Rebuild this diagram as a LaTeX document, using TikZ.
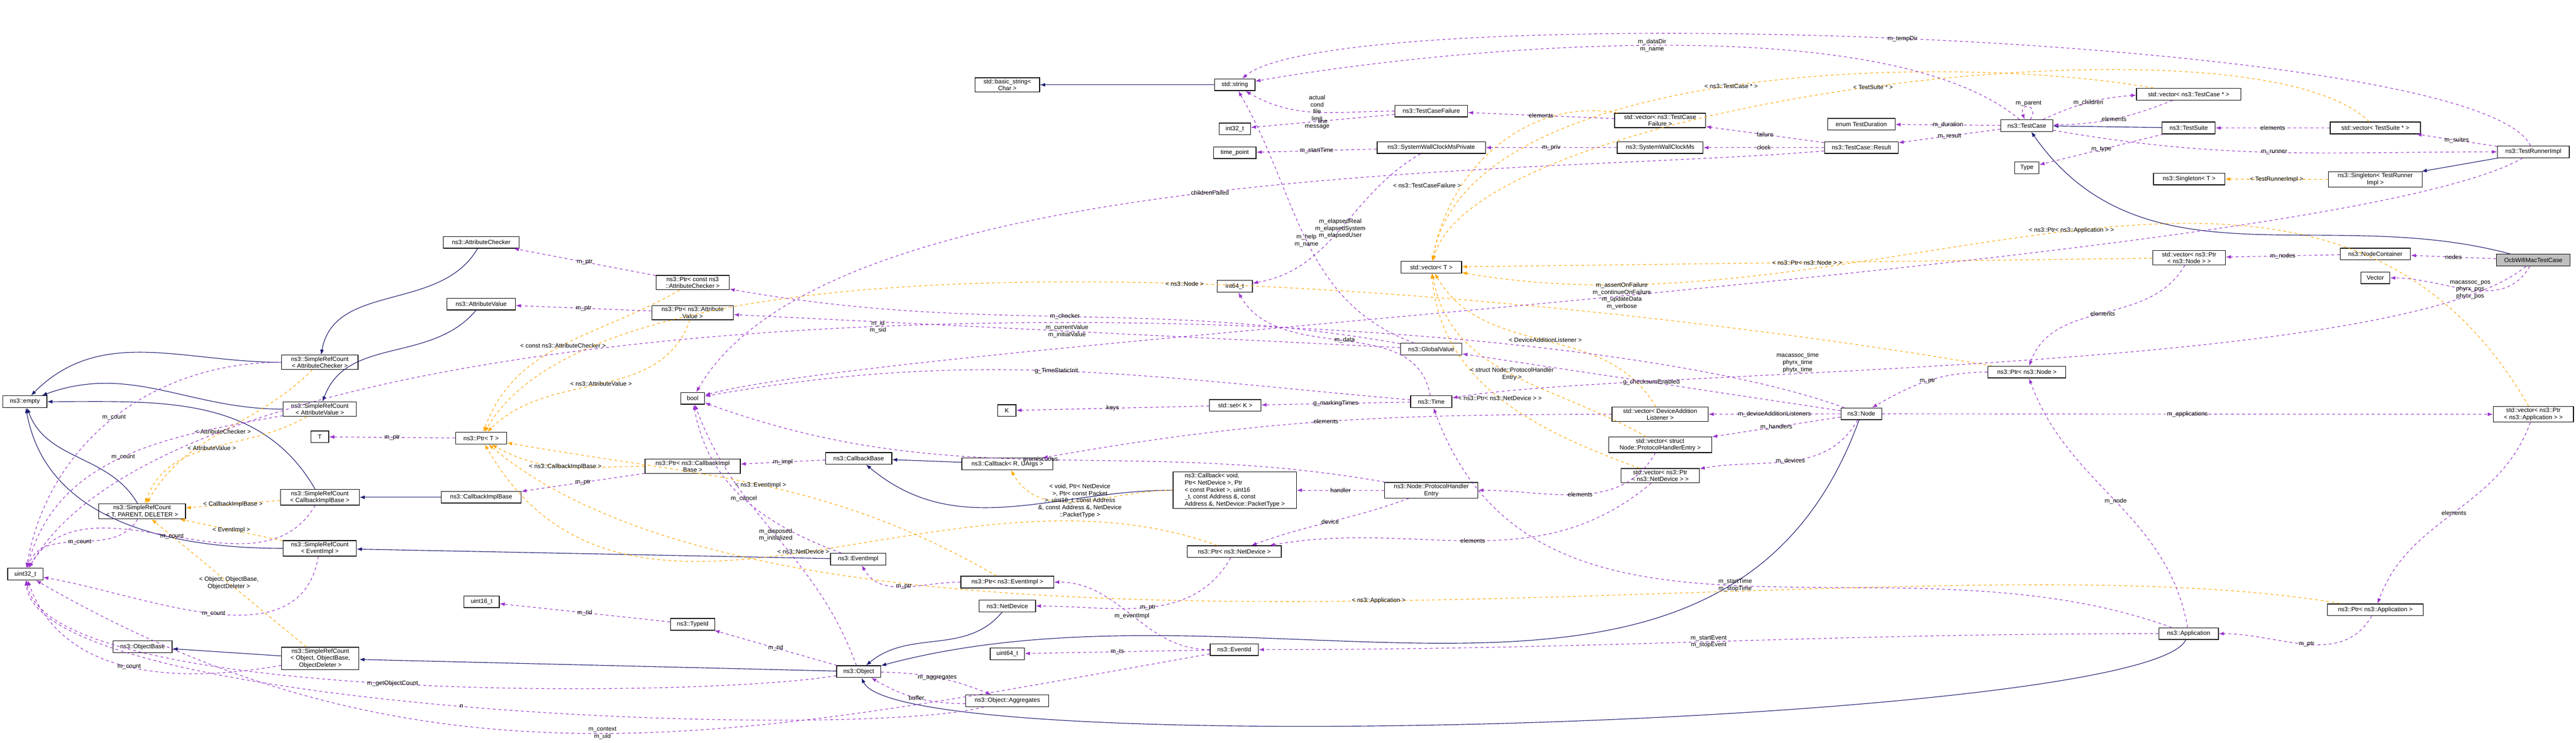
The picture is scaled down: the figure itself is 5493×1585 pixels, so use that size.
\documentclass[tikz,border=0pt]{standalone}
\usepackage{fontspec}
\setmainfont{Liberation Sans}
\usetikzlibrary{arrows.meta}
\definecolor{usecol}{RGB}{153,50,204}
\definecolor{inhcol}{RGB}{25,25,112}
\definecolor{tplcol}{RGB}{255,165,0}
\tikzset{
  cls/.style={draw=black,fill=white,line width=0.3pt,align=center,inner xsep=0.8pt,inner ysep=0.6pt,minimum height=5pt,font=\fontsize{2.6}{3}\selectfont},
  lbl/.style={font=\fontsize{2.6}{3}\selectfont,align=center,inner sep=0.4pt},
  use/.style={draw=usecol,dash pattern=on 1.2pt off 1.2pt,line width=0.25pt,-{Latex[length=2.2pt,width=1.6pt]}},
  inh/.style={draw=inhcol,line width=0.25pt,-{Latex[length=2.2pt,width=1.6pt]}},
  tpl/.style={draw=tplcol,dash pattern=on 1.2pt off 1.2pt,line width=0.25pt,-{Latex[length=2.2pt,width=1.6pt]}},
}
\newcommand{\cls}[5]{\node[cls,minimum width=#4*0.2pt] (#1) at (#2,#3) {#5};}
\newcommand{\inh}[3][]{\draw[inh] (#2) to[#1] (#3);}
\newcommand{\tpl}[4][]{\draw[tpl] (#2) to[#1] node[lbl] {#3} (#4);}
\newcommand{\memb}[4][]{\draw[use] (#2) to[#1] node[lbl] {#3} (#4);}
\begin{document}
\begin{tikzpicture}[x=0.2pt,y=-0.2pt]
    \useasboundingbox (0,0) rectangle (5493,1585);
    % classes, left part
    \cls{empty}{53}{857}{94}{ns3::empty}
    \cls{srcac}{682}{773}{163}{ns3::SimpleRefCount\\< AttributeChecker >}
    \cls{srcav}{682}{873}{156}{ns3::SimpleRefCount\\< AttributeValue >}
    \cls{srccib}{682}{1061}{168}{ns3::SimpleRefCount\\< CallbackImplBase >}
    \cls{srcei}{682}{1170}{156}{ns3::SimpleRefCount\\< EventImpl >}
    \cls{srctpd}{303}{1091}{185}{ns3::SimpleRefCount\\< T, PARENT, DELETER >}
    \cls{srcobj}{683}{1405}{165}{ns3::SimpleRefCount\\< Object, ObjectBase,\\ ObjectDeleter >}
    \cls{objbase}{304}{1380}{126}{ns3::ObjectBase}
    \cls{uint32}{54}{1225}{75}{uint32\_t}
    \cls{uint16}{1027}{1284}{75}{uint16\_t}
    \cls{T}{682}{932}{38}{T}
    \cls{ptrT}{1026}{935}{109}{ns3::Ptr< T >}
    \cls{ac}{1026}{517}{162}{ns3::AttributeChecker}
    \cls{av}{1026}{649}{146}{ns3::AttributeValue}
    \cls{cib}{1026}{1061}{170}{ns3::CallbackImplBase}
    \cls{ptrcac}{1477}{603}{156}{ns3::Ptr< const ns3\\::AttributeChecker >}
    \cls{ptrav}{1477}{667}{174}{ns3::Ptr< ns3::Attribute\\Value >}
    \cls{bool}{1477}{850}{51}{bool}
    \cls{ptrcib}{1477}{995}{203}{ns3::Ptr< ns3::CallbackImpl\\Base >}
    \cls{typeid}{1477}{1332}{95}{ns3::TypeId}
    \cls{eventimpl}{1830}{1193}{118}{ns3::EventImpl}
    \cls{object}{1831}{1433}{94}{ns3::Object}
    \cls{cbbase}{1831}{978}{141}{ns3::CallbackBase}
    % classes, middle part
    \cls{basicstr}{2148}{181}{138}{std::basic\_string<\\Char >}
    \cls{K}{2147}{876}{39}{K}
    \cls{cbru}{2148}{990}{194}{ns3::Callback< R, UArgs >}
    \cls{ptrei}{2148}{1242}{198}{ns3::Ptr< ns3::EventImpl >}
    \cls{netdev}{2148}{1293}{120}{ns3::NetDevice}
    \cls{uint64}{2148}{1395}{73}{uint64\_t}
    \cls{aggr}{2148}{1495}{177}{ns3::Object::Aggregates}
    \cls{string}{2633}{181}{86}{std::string}
    \cls{int32}{2633}{275}{67}{int32\_t}
    \cls{timept}{2633}{326}{91}{time\_point}
    \cls{int64}{2633}{611}{75}{int64\_t}
    \cls{setK}{2634}{865}{110}{std::set< K >}
    \node[cls,minimum width=263*0.2pt,align=left] (cbvoid) at (2633,1046) {ns3::Callback< void,\\ Ptr< NetDevice >, Ptr\\< const Packet >, uint16\\\_t, const Address \&, const\\ Address \&, NetDevice::PacketType >};
    \cls{ptrnd}{2632}{1177}{200}{ns3::Ptr< ns3::NetDevice >}
    \cls{eventid}{2632}{1386}{103}{ns3::EventId}
    \cls{tcf}{3052}{237}{155}{ns3::TestCaseFailure}
    \cls{swcmp}{3052}{315}{231}{ns3::SystemWallClockMsPrivate}
    \cls{vecT}{3052}{570}{129}{std::vector< T >}
    \cls{globval}{3052}{745}{131}{ns3::GlobalValue}
    \cls{time}{3052}{857}{88}{ns3::Time}
    \cls{phe}{3052}{1046}{199}{ns3::Node::ProtocolHandler\\Entry}
    \cls{vectcf}{3540}{257}{194}{std::vector< ns3::TestCase\\Failure >}
    \cls{swcm}{3540}{315}{183}{ns3::SystemWallClockMs}
    \cls{vecdal}{3540}{884}{205}{std::vector< DeviceAddition\\Listener >}
    \cls{vecphe}{3540}{949}{220}{std::vector< struct\\ Node::ProtocolHandlerEntry >}
    \cls{vecpnd}{3540}{1015}{167}{std::vector< ns3::Ptr\\< ns3::NetDevice > >}
    % classes, right part
    \cls{duration}{3969}{265}{144}{enum TestDuration}
    \cls{result}{3969}{315}{157}{ns3::TestCase::Result}
    \cls{node}{3969}{883}{87}{ns3::Node}
    \cls{testcase}{4322}{268}{111}{ns3::TestCase}
    \cls{type}{4322}{358}{52}{Type}
    \cls{ptrnode}{4322}{794}{166}{ns3::Ptr< ns3::Node >}
    \cls{vectc}{4667}{201}{222}{std::vector< ns3::TestCase * >}
    \cls{testsuite}{4667}{273}{113}{ns3::TestSuite}
    \cls{singT}{4668}{382}{152}{ns3::Singleton< T >}
    \cls{vecnode}{4668}{550}{155}{std::vector< ns3::Ptr\\< ns3::Node > >}
    \cls{app}{4667}{1352}{127}{ns3::Application}
    \cls{vects}{5065}{273}{192}{std::vector< TestSuite * >}
    \cls{singtr}{5065}{383}{200}{ns3::Singleton< TestRunner\\Impl >}
    \cls{nodecont}{5065}{542}{150}{ns3::NodeContainer}
    \cls{vector}{5065}{593}{62}{Vector}
    \cls{ptrapp}{5065}{1301}{204}{ns3::Ptr< ns3::Application >}
    \cls{trimpl}{5402}{324}{153}{ns3::TestRunnerImpl}
    \node[cls,minimum width=157*0.2pt,fill=black!25] (ocb) at (5402,555) {OcbWifiMacTestCase};
    \cls{vecapp}{5402}{884}{171}{std::vector< ns3::Ptr\\< ns3::Application > >}

    % inheritance
    \inh[out=180,in=45]{srcac}{empty}
    \inh[out=180,in=20]{srcav}{empty}
    \inh[out=120,in=0]{srccib}{empty}
    \inh[out=120,in=-70]{srctpd}{empty}
    \inh[out=180,in=-80]{srcei}{empty}
    \inh[out=-120,in=80]{ac}{srcac}
    \inh[out=-130,in=70]{av}{srcav}
    \inh{cib}{srccib}
    \inh{eventimpl}{srcei}
    \inh{object}{srcobj}
    \inh{srcobj}{objbase}
    \inh{string}{basicstr}
    \inh{cbru}{cbbase}
    \inh[out=180,in=-40]{cbvoid}{cbbase}
    \inh[out=-130,in=40]{netdev}{object}
    \inh[out=-110,in=15]{node}{object}
    \inh[out=-115,in=-65,looseness=0.18]{app}{object}
    \inh{testsuite}{testcase}
    \inh[out=165,in=-55]{ocb}{testcase}
    \inh{trimpl}{singtr}

    % template instances
    \tpl[out=-135,in=60]{srcac}{< AttributeChecker >}{srctpd}
    \tpl[out=-150,in=70]{srcav}{< AttributeValue >}{srctpd}
    \tpl{srccib}{< CallbackImplBase >}{srctpd}
    \tpl{srcei}{< EventImpl >}{srctpd}
    \tpl{srcobj}{< Object, ObjectBase,\\ObjectDeleter >}{srctpd}
    \tpl[out=-150,in=70]{ptrcac}{< const ns3::AttributeChecker >}{ptrT}
    \tpl[out=-110,in=45]{ptrav}{< ns3::AttributeValue >}{ptrT}
    \tpl[out=180,in=-30]{ptrcib}{< ns3::CallbackImplBase >}{ptrT}
    \tpl[out=150,in=-10]{ptrei}{< ns3::EventImpl >}{ptrT}
    \tpl[out=160,in=-60]{ptrnd}{< ns3::NetDevice >}{ptrT}
    \tpl[out=170,in=60,looseness=0.5]{ptrnode}{< ns3::Node >}{ptrT}
    \tpl[out=170,in=-40,looseness=0.6]{ptrapp}{< ns3::Application >}{ptrT}
    \draw[tpl] (vectcf) to[out=170,in=80] node[lbl,pos=0.7,left] {< ns3::TestCaseFailure >} (vecT);
    \tpl[out=170,in=80,looseness=0.7]{vectc}{< ns3::TestCase * >}{vecT}
    \tpl[out=135,in=75,looseness=0.45]{vects}{< TestSuite * >}{vecT}
    \tpl{vecnode}{< ns3::Ptr< ns3::Node > >}{vecT}
    \tpl[out=120,in=-60]{vecdal}{< DeviceAdditionListener >}{vecT}
    \tpl[out=150,in=-80]{vecphe}{< struct Node::ProtocolHandler\\Entry >}{vecT}
    \tpl[out=160,in=-85]{vecpnd}{< ns3::Ptr< ns3::NetDevice > >}{vecT}
    \tpl[out=120,in=-10]{vecapp}{< ns3::Ptr< ns3::Application > >}{vecT}
    \tpl[out=180,in=-60]{cbvoid}{< void, Ptr< NetDevice\\>, Ptr< const Packet\\>, uint16\_t, const Address\\\&, const Address \&, NetDevice\\::PacketType >}{cbru}
    \tpl{singtr}{< TestRunnerImpl >}{singT}

    % members, left part
    \memb[out=180,in=80]{srcac}{m\_count}{uint32}
    \memb[out=190,in=75]{srcav}{m\_count}{uint32}
    \memb[out=-120,in=60]{srccib}{m\_count}{uint32}
    \memb[out=-120,in=70]{srctpd}{m\_count}{uint32}
    \memb[out=-100,in=-10]{srcei}{m\_count}{uint32}
    \memb[out=190,in=-70]{srcobj}{m\_count}{uint32}
    \memb[out=190,in=-80,looseness=0.4]{object}{m\_getObjectCount}{uint32}
    \memb[out=-165,in=-85,looseness=0.35]{aggr}{n}{uint32}
    \memb[out=190,in=-30]{eventid}{m\_context\\m\_uid}{uint32}
    \memb{typeid}{m\_tid}{uint16}
    \memb{ptrT}{m\_ptr}{T}
    \memb{ptrcac}{m\_ptr}{ac}
    \memb{ptrav}{m\_ptr}{av}
    \memb{ptrcib}{m\_ptr}{cib}
    \memb{cbbase}{m\_impl}{ptrcib}
    \memb[out=180,in=-60]{ptrei}{m\_ptr}{eventimpl}
    \memb[out=180,in=0]{eventid}{m\_eventImpl}{ptrei}
    \memb{eventid}{m\_ts}{uint64}
    \memb[out=160,in=-80]{eventimpl}{m\_cancel}{bool}
    \memb[out=110,in=-70]{object}{m\_disposed\\m\_initialized}{bool}
    \memb{object}{m\_tid}{typeid}
    \memb[bend left=10]{object}{m\_aggregates}{aggr}
    \memb[bend left=15]{aggr}{buffer}{object}
    \memb[out=-120,in=0]{ptrnd}{m\_ptr}{netdev}
    % members, middle part
    \memb[out=200,in=20]{phe}{device}{ptrnd}
    \memb[out=170,in=-20]{phe}{promiscuous}{bool}
    \memb{phe}{handler}{cbvoid}
    \memb[out=-120,in=0]{vecphe}{elements}{phe}
    \memb[out=-140,in=10]{vecpnd}{elements}{ptrnd}
    \memb[out=180,in=10]{vecdal}{elements}{cbru}
    \memb[out=160,in=60,looseness=0.5]{node}{m\_id\\m\_sid}{uint32}
    \memb{node}{m\_deviceAdditionListeners}{vecdal}
    \memb{node}{m\_handlers}{vecphe}
    \memb[out=-120,in=10]{node}{m\_devices}{vecpnd}
    \memb{node}{g\_checksumEnabled}{globval}
    \memb[out=160,in=-60]{globval}{m\_help\\m\_name}{string}
    \memb[out=170,in=-10]{globval}{m\_checker}{ptrcac}
    \memb{globval}{m\_currentValue\\m\_initialValue}{ptrav}
    \memb[out=175,in=10]{time}{g\_TimeStaticInit}{bool}
    \memb{time}{g\_markingTimes}{setK}
    \memb{setK}{keys}{K}
    \memb[out=100,in=-60]{time}{m\_data}{int64}
    \memb[out=180,in=-30]{tcf}{actual\\cond\\file\\limit\\message}{string}
    \memb{tcf}{line}{int32}
    \memb{swcmp}{m\_startTime}{timept}
    \memb[out=-150,in=10]{swcmp}{m\_elapsedReal\\m\_elapsedSystem\\m\_elapsedUser}{int64}
    \memb{vectcf}{elements}{tcf}
    \memb{swcm}{m\_priv}{swcmp}
    \memb{result}{failure}{vectcf}
    \memb{result}{clock}{swcm}
    \memb[out=185,in=60,looseness=0.6]{result}{childrenFailed}{bool}
    % members, right part
    \memb{testcase}{m\_duration}{duration}
    \memb{testcase}{m\_result}{result}
    \memb[out=140,in=10,looseness=0.6]{testcase}{m\_dataDir\\m\_name}{string}
    \draw[use] (testcase) to[out=60,in=110,looseness=8] node[lbl,above] {m\_parent} (testcase);
    \memb[bend left=10]{testcase}{m\_children}{vectc}
    \memb[bend left=10]{vectc}{elements}{testcase}
    \memb[out=-10,in=180]{testcase}{m\_runner}{trimpl}
    \memb{testsuite}{m\_type}{type}
    \memb{vects}{elements}{testsuite}
    \memb{trimpl}{m\_suites}{vects}
    \memb[out=115,in=40,looseness=0.25]{trimpl}{m\_tempDir}{string}
    \memb[out=-150,in=15,looseness=0.3]{trimpl}{m\_assertOnFailure\\m\_continueOnFailure\\m\_updateData\\m\_verbose}{bool}
    \memb{ocb}{nodes}{nodecont}
    \memb[out=-120,in=0]{ocb}{macassoc\_pos\\phyrx\_pos\\phytx\_pos}{vector}
    \draw[use] (ocb) to[out=-140,in=10,looseness=0.4] node[lbl,pos=0.65,above] {macassoc\_time\\phyrx\_time\\phytx\_time} (time);
    \memb{nodecont}{m\_nodes}{vecnode}
    \memb[out=-120,in=70]{vecnode}{elements}{ptrnode}
    \memb[out=180,in=30]{ptrnode}{m\_ptr}{node}
    \memb{node}{m\_applications}{vecapp}
    \memb[out=-110,in=70]{vecapp}{elements}{ptrapp}
    \memb[out=-120,in=0]{ptrapp}{m\_ptr}{app}
    \memb[out=100,in=-70]{app}{m\_node}{ptrnode}
    \memb[out=160,in=-70]{app}{m\_startTime\\m\_stopTime}{time}
    \memb[out=180,in=0]{app}{m\_startEvent\\m\_stopEvent}{eventid}
\end{tikzpicture}
\end{document}
